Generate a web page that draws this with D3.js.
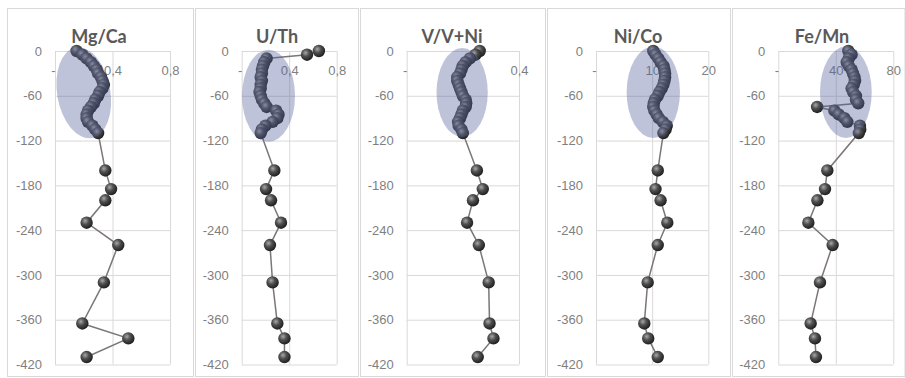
<!DOCTYPE html>
<html>
<head>
<meta charset="utf-8">
<script src="https://cdn.jsdelivr.net/npm/d3@7"></script>
<style>
  body { margin: 0; background: #fff; }
  svg { display: block; font-family: Lato, "Open Sans", sans-serif; }
  .grid line { stroke: #d9d9d9; stroke-width: 1; }
  .grid .domain { display: none; }
  .grid text { fill: #7f7f7f; font-size: 13px; }
</style>
</head>
<body>
<svg id="chart" width="905" height="378"></svg>
<script>
// depth (cm) shared by all five profiles
const depths = [0, -5, -10, -15, -20, -25, -30, -35, -40, -45, -50, -55, -60, -65, -70, -75,
  -80, -85, -90, -95, -100, -105, -110, -160, -185, -200, -230, -260, -310, -365, -385, -410];

const mgCa = [0.15, 0.19, 0.22, 0.25, 0.27, 0.29, 0.30, 0.32, 0.33, 0.34, 0.33, 0.31, 0.30, 0.28,
  0.27, 0.25, 0.23, 0.22, 0.22, 0.23, 0.26, 0.28, 0.30, 0.35, 0.39, 0.35, 0.22, 0.44, 0.34, 0.19, 0.51, 0.22];
const uTh = [0.65, 0.55, 0.21, 0.19, 0.18, 0.17, 0.17, 0.16, 0.17, 0.16, 0.16, 0.15, 0.16, 0.17,
  0.19, 0.21, 0.29, 0.31, 0.30, 0.26, 0.20, 0.17, 0.16, 0.275, 0.205, 0.247, 0.331, 0.238, 0.26, 0.30, 0.36, 0.36];
const vVNi = [0.26, 0.245, 0.225, 0.21, 0.20, 0.195, 0.19, 0.18, 0.18, 0.185, 0.19, 0.195, 0.20, 0.21,
  0.212, 0.21, 0.20, 0.195, 0.19, 0.183, 0.185, 0.195, 0.20, 0.25, 0.271, 0.236, 0.215, 0.257, 0.292, 0.295, 0.309, 0.253];
const niCo = [10.2, 10.6, 11.1, 11.5, 12.0, 12.2, 12.3, 12.3, 12.2, 12.0, 11.7, 11.3, 11.0, 10.5,
  10.3, 10.2, 10.4, 10.8, 11.2, 11.9, 12.6, 12.4, 12.0, 11.0, 10.6, 11.5, 12.7, 11.0, 9.2, 8.6, 9.3, 11.0];
const feMn = [48.7, 51, 49, 47.6, 49, 51, 52, 53, 53.4, 52.5, 51, 52, 54, 54,
  55.6, 27, 39, 42, 46, 48, 56.8, 57, 56, 34.1, 32.5, 27.2, 20.9, 37.8, 29, 22.5, 25.5, 26.2];

const titles = ["Mg/Ca", "U/Th", "V/V+Ni", "Ni/Co", "Fe/Mn"];
const depthTicks = [0, -60, -120, -180, -240, -300, -360, -420];
const xTicks = [[0, 0.4, 0.8], [0, 0.4, 0.8], [0, 0.4], [0, 10, 20], [0, 40, 80]];

// highlighted upper zone: [centre value, centre depth, radius value, radius depth, tilt deg]
const zones = [
  [0.2, -56, 0.185, 61.5, -10],
  [0.226, -60, 0.223, 61.6, 0],
  [0.1975, -55.6, 0.0913, 59.6, 0],
  [10.2, -55.3, 4.75, 61.2, 0],
  [47, -55.3, 18, 61.2, 0]
];

const series = [mgCa, uTh, vVNi, niCo, feMn];

// layout of the five small charts
const panels = [
  {x0: 7, x1: 193, left: 55, right: 170, mid: 99},
  {x0: 195, x1: 358, left: 241.7, right: 336.7, mid: 277},
  {x0: 360, x1: 545, left: 406.7, right: 519, mid: 452},
  {x0: 547, x1: 730, left: 596, right: 708.3, mid: 638},
  {x0: 732, x1: 904.5, left: 778.3, right: 893.3, mid: 822}
];
const frameTop = 8, frameBottom = 376;
const yTop = 51, yBottom = 364.5;

const fmt = d3.formatLocale({decimal: ",", thousands: " ", grouping: [3], currency: ["", ""], minus: "-"}).format("~g");
// accounting style on the value axis: zero shows as a dash
const fmtX = d => d === 0 ? "-" : fmt(d);

const svg = d3.select("#chart");

const grad = svg.append("defs").append("radialGradient")
  .attr("id", "ball")
  .attr("cx", "38%").attr("cy", "35%").attr("r", "65%");
grad.append("stop").attr("offset", "0%").attr("stop-color", "#a8a8a8");
grad.append("stop").attr("offset", "45%").attr("stop-color", "#4f4f4f");
grad.append("stop").attr("offset", "100%").attr("stop-color", "#1f1f1f");

const y = d3.scaleLinear().domain([0, -420]).range([yTop, yBottom]);

panels.forEach((p, i) => {
  const vals = series[i];
  const x = d3.scaleLinear().domain([0, d3.max(xTicks[i])]).range([p.left, p.right]);
  const g = svg.append("g");

  g.append("rect")
    .attr("x", p.x0 + 0.5).attr("y", frameTop + 0.5)
    .attr("width", p.x1 - p.x0).attr("height", frameBottom - frameTop)
    .attr("fill", "#fff")
    .attr("stroke", "#d9d9d9");

  // horizontal grid and depth labels
  g.append("g")
    .attr("class", "grid")
    .attr("transform", `translate(${p.left},0)`)
    .call(d3.axisLeft(y).tickValues(depthTicks).tickSize(-(p.right - p.left)).tickPadding(13).tickFormat(fmt));

  // vertical grid
  g.append("g")
    .attr("class", "grid")
    .attr("transform", `translate(0,${yTop})`)
    .call(d3.axisBottom(x).tickValues(xTicks[i]).tickSize(yBottom - yTop).tickFormat(""));

  // value labels sit a little under the top axis
  g.append("g")
    .attr("class", "grid")
    .attr("transform", `translate(0,${yTop})`)
    .call(d3.axisBottom(x).tickValues(xTicks[i]).tickSize(0).tickPadding(15).tickFormat(fmtX))
    .selectAll("text")
    .attr("dx", d => d === 0 ? -2 : 0);

  g.append("text")
    .attr("x", p.mid)
    .attr("y", 43)
    .attr("text-anchor", "middle")
    .style("font-size", "18px")
    .style("font-weight", "bold")
    .attr("fill", "#595959")
    .text(titles[i]);

  const line = d3.line()
    .x((d, j) => x(vals[j]))
    .y(d => y(d));

  g.append("path")
    .datum(depths)
    .attr("d", line)
    .attr("fill", "none")
    .attr("stroke", "#7d7676")
    .attr("stroke-width", 1.5);

  g.selectAll("circle.pt")
    .data(depths)
    .join("circle")
    .attr("class", "pt")
    .attr("cx", (d, j) => x(vals[j]))
    .attr("cy", d => y(d))
    .attr("r", 6.2)
    .attr("fill", "url(#ball)");

  const z = zones[i];
  const cx = x(z[0]), cy = y(z[1]);
  g.append("ellipse")
    .attr("cx", cx)
    .attr("cy", cy)
    .attr("rx", x(z[2]) - x(0))
    .attr("ry", y(-z[3]) - y(0))
    .attr("transform", `rotate(${z[4]},${cx},${cy})`)
    .attr("fill", "#53629a")
    .attr("fill-opacity", 0.38);
});
</script>
</body>
</html>
